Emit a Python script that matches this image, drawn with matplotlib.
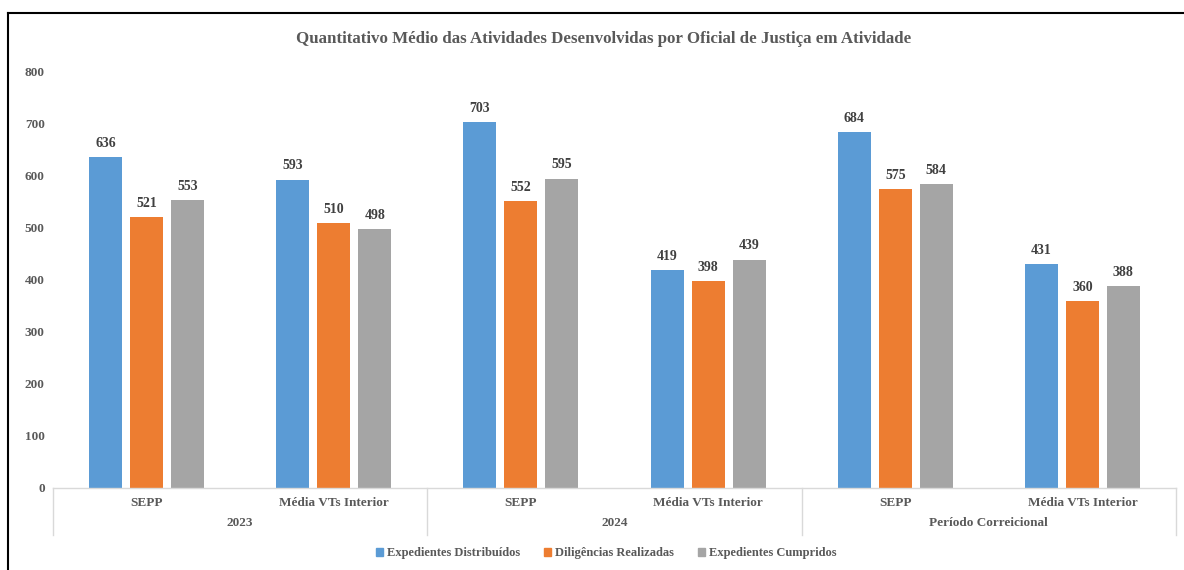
import matplotlib
import numpy as np

matplotlib.use("Agg")
import matplotlib.pyplot as plt
from matplotlib.lines import Line2D
from matplotlib.patches import Patch

groups = ["2023", "2024", "Período Correicional"]
categories = ["SEPP", "Média VTs Interior"] * 3
series_names = ["Expedientes Distribuídos", "Diligências Realizadas", "Expedientes Cumpridos"]
distribuidos = [636, 593, 703, 419, 684, 431]
diligencias = [521, 510, 552, 398, 575, 360]
cumpridos = [553, 498, 595, 439, 584, 388]
yticks = [0, 100, 200, 300, 400, 500, 600, 700, 800]

colors = ["#5B9BD5", "#ED7D31", "#A5A5A5"]
text_grey = "#595959"
font = "Liberation Serif"

W, H = 1184, 570
fig = plt.figure(figsize=(W / 100, H / 100), dpi=100)
ax = fig.add_axes([53 / W, 1 - 488 / H, (1176 - 53) / W, (488 - 72) / H])

x = np.arange(len(categories))
step = 0.219
width = 0.176
for i, (vals, name) in enumerate(zip([distribuidos, diligencias, cumpridos], series_names)):
    xs = x + (i - 1) * step
    ax.bar(xs, vals, width, color=colors[i], label=name, zorder=2)
    for xi, v in zip(xs, vals):
        ax.text(xi, v + 14, str(v), ha="center", va="bottom", fontsize=10,
                fontweight="bold", color="#404040", family=font)

ax.set_xlim(-0.5, len(categories) - 0.5)
ax.set_ylim(0, 800)
ax.set_yticks(yticks)
ax.set_yticklabels([str(t) for t in yticks], fontsize=9.5, fontweight="bold",
                   color=text_grey, family=font)
ax.tick_params(axis="y", length=0, pad=6)
ax.set_xticks([])
for s in ["top", "right", "left"]:
    ax.spines[s].set_visible(False)
ax.spines["bottom"].set_color("#D9D9D9")
ax.spines["bottom"].set_linewidth(1)

# two-level category axis
trans = ax.get_xaxis_transform()
px = 1 / (488 - 72)
for xi, cat in zip(x, categories):
    ax.text(xi, -15 * px, cat, transform=trans, ha="center", va="center", fontsize=9.5,
            fontweight="bold", color=text_grey, family=font)
for gi, g in enumerate(groups):
    ax.text(2 * gi + 0.5, -35 * px, g, transform=trans, ha="center", va="center",
            fontsize=9.5, fontweight="bold", color=text_grey, family=font)
for b in [-0.5, 1.5, 3.5, 5.5]:
    ax.add_line(Line2D([b, b], [0, -47 * px], transform=trans, color="#D9D9D9",
                       lw=1, clip_on=False))

fig.text(604 / W, 1 - 39 / H,
         "Quantitativo Médio das Atividades Desenvolvidas por Oficial de Justiça em Atividade",
         ha="center", va="center", fontsize=12.2, fontweight="bold", color=text_grey, family=font)

handles = [Patch(color=c, label=n) for c, n in zip(colors, series_names)]
fig.legend(handles=handles, loc="center", bbox_to_anchor=(606 / W, 1 - 553 / H), ncol=3,
           frameon=False, handlelength=0.6, handleheight=0.6, handletextpad=0.3,
           columnspacing=1.9, prop={"family": font, "size": 9, "weight": "bold"},
           labelcolor=text_grey)

# frame lines
fig.add_artist(Line2D([8 / W, 1], [1 - 13 / H, 1 - 13 / H], transform=fig.transFigure,
                      color="black", lw=1.5))
fig.add_artist(Line2D([8 / W, 8 / W], [0, 1 - 13 / H], transform=fig.transFigure,
                      color="black", lw=1.5))

fig.savefig("out.png", dpi=100)
